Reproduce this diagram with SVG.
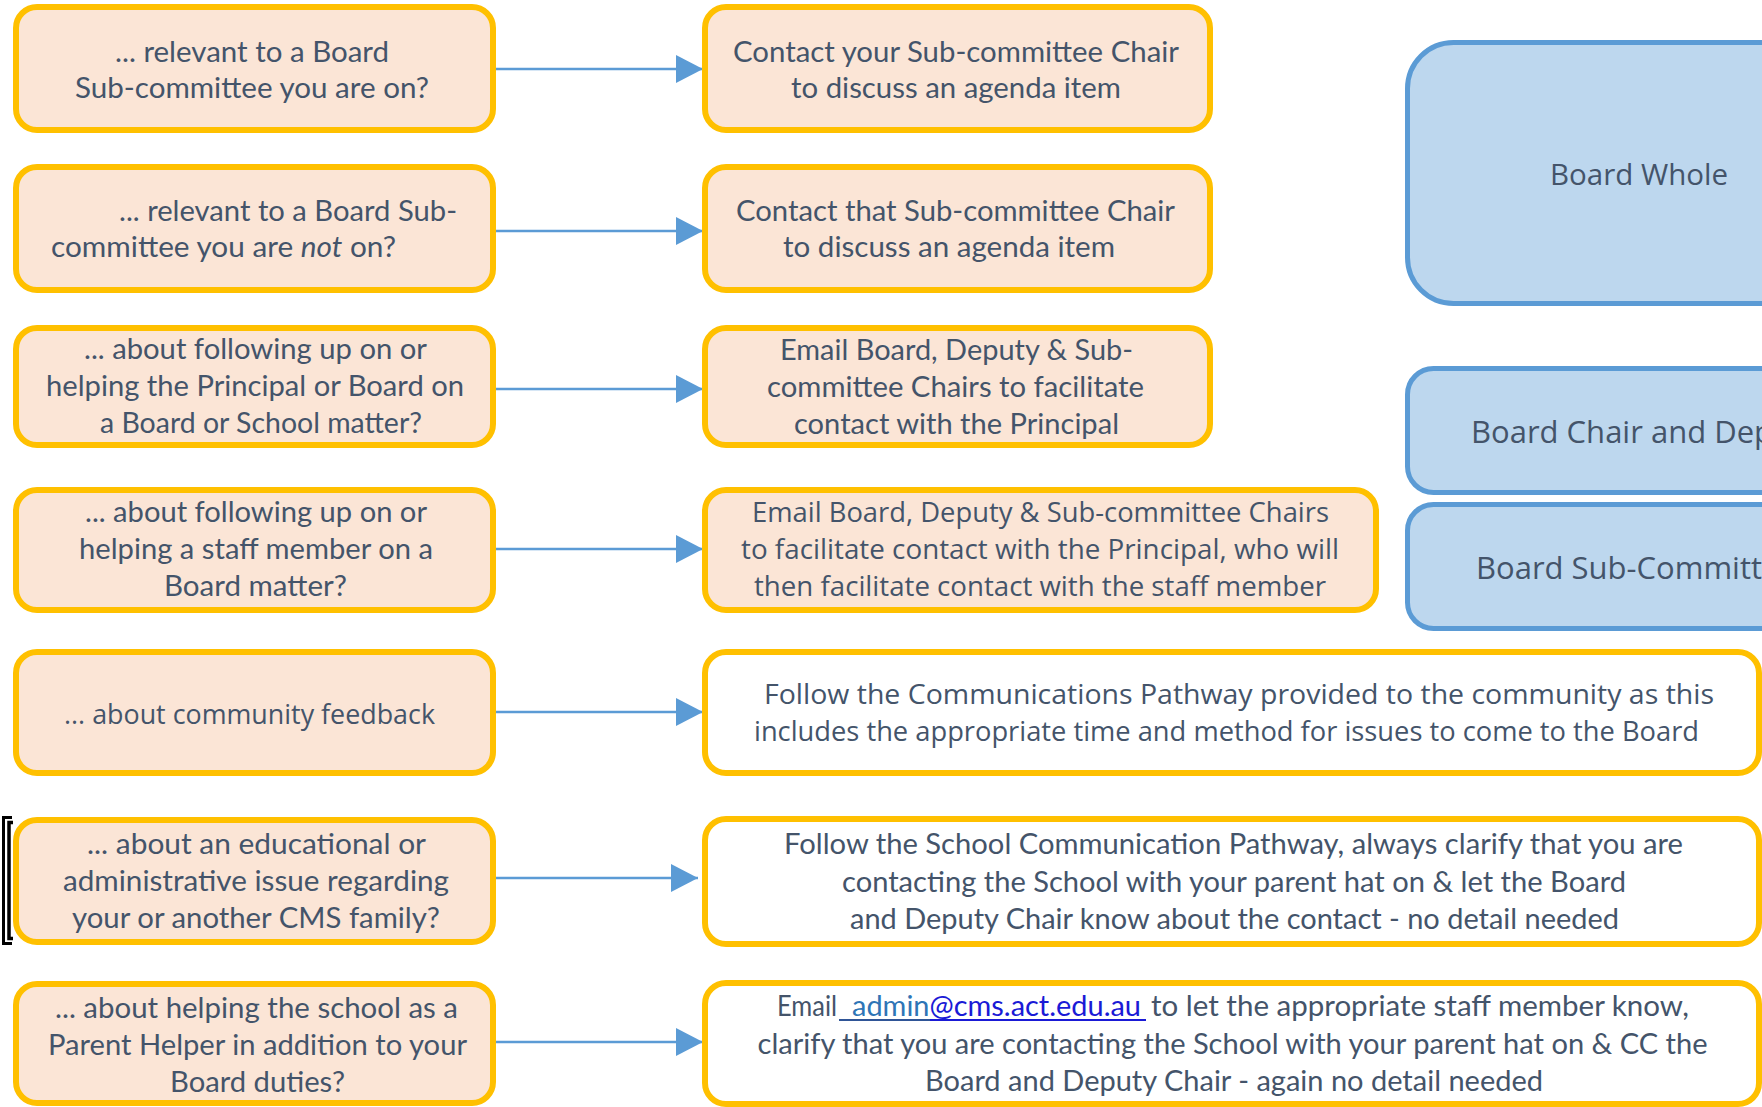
<svg xmlns="http://www.w3.org/2000/svg" width="1762" height="1107" viewBox="0 0 1762 1107">
<defs>
<style>
.q{fill:#FBE5D6;stroke:#FFC000;stroke-width:6}
.w{fill:#FFFFFF;stroke:#FFC000;stroke-width:6}
.b{fill:#BDD7EE;stroke:#5B9BD5;stroke-width:5}
.t{font-family:Lato,"Liberation Sans",sans-serif;font-size:28px;fill:#44546A;text-anchor:middle}
.s{font-family:"Open Sans","Noto Sans",sans-serif;font-size:27px;fill:#44546A;text-anchor:middle}
.bt{font-family:"Open Sans","Noto Sans",sans-serif;font-size:31px;fill:#44546A;text-anchor:start}
.st{text-anchor:start}
.c{stroke:#5B9BD5;stroke-width:2.5;fill:none;marker-end:url(#arr)}
</style>
<marker id="arr" markerUnits="userSpaceOnUse" markerWidth="27" markerHeight="28" refX="27" refY="14" orient="auto">
<path d="M0,0 L27,14 L0,28 z" fill="#5B9BD5"/>
</marker>
</defs>
<rect width="1762" height="1107" fill="#FFFFFF"/>

<g id="connectors">
<line class="c" x1="496" y1="69" x2="703" y2="69"/>
<line class="c" x1="496" y1="231" x2="703" y2="231"/>
<line class="c" x1="496" y1="389" x2="703" y2="389"/>
<line class="c" x1="496" y1="549" x2="703" y2="549"/>
<line class="c" x1="496" y1="712" x2="703" y2="712"/>
<line class="c" x1="491" y1="878" x2="698" y2="878"/>
<line class="c" x1="496" y1="1042" x2="703" y2="1042"/>
</g>

<g id="q1">
<rect class="q" x="16" y="7" width="477" height="123" rx="21"/>
<text class="t" x="252" y="62" textLength="274" lengthAdjust="spacingAndGlyphs">... relevant to a Board</text>
<text class="t" x="252" y="98" textLength="354" lengthAdjust="spacingAndGlyphs">Sub-committee you are on?</text>
</g>
<g id="q2">
<rect class="q" x="16" y="167" width="477" height="123" rx="21"/>
<text class="t st" x="119" y="221" textLength="338" lengthAdjust="spacingAndGlyphs">... relevant to a Board Sub-</text>
<text class="t st" x="51" y="257" textLength="345" lengthAdjust="spacingAndGlyphs">committee you are <tspan font-style="italic">not</tspan> on?</text>
</g>
<g id="q3">
<rect class="q" x="16" y="328" width="477" height="117" rx="21"/>
<text class="t" x="255.5" y="359" textLength="343" lengthAdjust="spacingAndGlyphs">... about following up on or</text>
<text class="t" x="255" y="396" textLength="418" lengthAdjust="spacingAndGlyphs">helping the Principal or Board on</text>
<text class="t" x="261" y="433" textLength="322" lengthAdjust="spacingAndGlyphs">a Board or School matter?</text>
</g>
<g id="q4">
<rect class="q" x="16" y="490" width="477" height="120" rx="21"/>
<text class="t" x="256" y="522" textLength="342" lengthAdjust="spacingAndGlyphs">... about following up on or</text>
<text class="t" x="256" y="559" textLength="354" lengthAdjust="spacingAndGlyphs">helping a staff member on a</text>
<text class="t" x="255.5" y="596" textLength="183" lengthAdjust="spacingAndGlyphs">Board matter?</text>
</g>
<g id="q5">
<rect class="q" x="16" y="652" width="477" height="121" rx="21"/>
<text class="s" x="249.5" y="724" textLength="371" lengthAdjust="spacingAndGlyphs">... about community feedback</text>
</g>
<g id="q6">
<path d="M12,817.5 H3.5 V943.5 H12" fill="none" stroke="#000" stroke-width="3"/>
<path d="M13,822.5 H9 V938.5 H13" fill="none" stroke="#000" stroke-width="3.5"/>
<rect class="q" x="16" y="820" width="477" height="122" rx="21"/>
<text class="t" x="256.5" y="854" textLength="339" lengthAdjust="spacingAndGlyphs">... about an educational or</text>
<text class="t" x="256" y="891" textLength="386" lengthAdjust="spacingAndGlyphs">administrative issue regarding</text>
<text class="t" x="256" y="928" textLength="368" lengthAdjust="spacingAndGlyphs">your or another CMS family?</text>
</g>
<g id="q7">
<rect class="q" x="16" y="984" width="477" height="119" rx="21"/>
<text class="t" x="256.5" y="1018" textLength="403" lengthAdjust="spacingAndGlyphs">... about helping the school as a</text>
<text class="t" x="257.5" y="1055" textLength="419" lengthAdjust="spacingAndGlyphs">Parent Helper in addition to your</text>
<text class="t" x="257.5" y="1092" textLength="175" lengthAdjust="spacingAndGlyphs">Board duties?</text>
</g>

<g id="a1">
<rect class="q" x="705" y="7" width="505" height="123" rx="21"/>
<text class="t" x="956" y="62" textLength="446" lengthAdjust="spacingAndGlyphs">Contact your Sub-committee Chair</text>
<text class="t" x="956" y="98" textLength="330" lengthAdjust="spacingAndGlyphs">to discuss an agenda item</text>
</g>
<g id="a2">
<rect class="q" x="705" y="167" width="505" height="123" rx="21"/>
<text class="t" x="955.5" y="221" textLength="439" lengthAdjust="spacingAndGlyphs">Contact that Sub-committee Chair</text>
<text class="t" x="949" y="257" textLength="332" lengthAdjust="spacingAndGlyphs">to discuss an agenda item</text>
</g>
<g id="a3">
<rect class="q" x="705" y="328" width="505" height="117" rx="21"/>
<text class="t" x="956.5" y="360" textLength="353" lengthAdjust="spacingAndGlyphs">Email Board, Deputy &amp; Sub-</text>
<text class="t" x="955.5" y="397" textLength="377" lengthAdjust="spacingAndGlyphs">committee Chairs to facilitate</text>
<text class="t" x="956.5" y="434" textLength="325" lengthAdjust="spacingAndGlyphs">contact with the Principal</text>
</g>
<g id="a4">
<rect class="q" x="705" y="490" width="671" height="120" rx="21"/>
<text class="s" x="1040.5" y="522" textLength="577" lengthAdjust="spacingAndGlyphs">Email Board, Deputy &amp; Sub-committee Chairs</text>
<text class="s" x="1040" y="559" textLength="598" lengthAdjust="spacingAndGlyphs">to facilitate contact with the Principal, who will</text>
<text class="s" x="1040" y="596" textLength="572" lengthAdjust="spacingAndGlyphs">then facilitate contact with the staff member</text>
</g>
<g id="a5">
<rect class="w" x="705" y="652" width="1054" height="121" rx="21"/>
<text class="s" x="1239" y="704" textLength="950" lengthAdjust="spacingAndGlyphs">Follow the Communications Pathway provided to the community as this</text>
<text class="s" x="1226.5" y="741" textLength="945" lengthAdjust="spacingAndGlyphs">includes the appropriate time and method for issues to come to the Board</text>
</g>
<g id="a6">
<rect class="w" x="705" y="819" width="1054" height="125" rx="21"/>
<text class="t" x="1233.5" y="854" textLength="899" lengthAdjust="spacingAndGlyphs">Follow the School Communication Pathway, always clarify that you are</text>
<text class="t" x="1234" y="892" textLength="784" lengthAdjust="spacingAndGlyphs">contacting the School with your parent hat on &amp; let the Board</text>
<text class="t" x="1234.5" y="929" textLength="769" lengthAdjust="spacingAndGlyphs">and Deputy Chair know about the contact - no detail needed</text>
</g>
<g id="a7">
<rect class="w" x="705" y="983" width="1054" height="121" rx="21"/>
<text class="t st" x="777" y="1016" textLength="60" lengthAdjust="spacingAndGlyphs">Email</text>
<text class="t st" x="852" y="1016" textLength="289" lengthAdjust="spacingAndGlyphs"><tspan fill="#2E75B6">admin</tspan><tspan fill="#1A1AD6">@cms.act.edu.au</tspan></text>
<line x1="839" y1="1020" x2="930" y2="1020" stroke="#2F5597" stroke-width="2"/>
<line x1="930" y1="1020" x2="1146" y2="1020" stroke="#1A1AD6" stroke-width="2"/>
<text class="t st" x="1151" y="1016" textLength="538" lengthAdjust="spacingAndGlyphs">to let the appropriate staff member know,</text>
<text class="t" x="1232.5" y="1054" textLength="950" lengthAdjust="spacingAndGlyphs">clarify that you are contacting the School with your parent hat on &amp; CC the</text>
<text class="t" x="1234" y="1091" textLength="618" lengthAdjust="spacingAndGlyphs">Board and Deputy Chair - again no detail needed</text>
</g>

<g id="boardWhole">
<rect class="b" x="1407.5" y="42.5" width="420" height="261" rx="46"/>
<text class="bt" x="1550" y="185" style="font-size:30px" textLength="178" lengthAdjust="spacingAndGlyphs">Board Whole</text>
</g>
<g id="boardChair">
<rect class="b" x="1407.5" y="368.5" width="420" height="124" rx="26"/>
<text class="bt" x="1471" y="443">Board Chair and Dep</text>
</g>
<g id="boardSub">
<rect class="b" x="1407.5" y="504.5" width="420" height="124" rx="26"/>
<text class="bt" x="1476" y="579">Board Sub-Committe</text>
</g>
</svg>
